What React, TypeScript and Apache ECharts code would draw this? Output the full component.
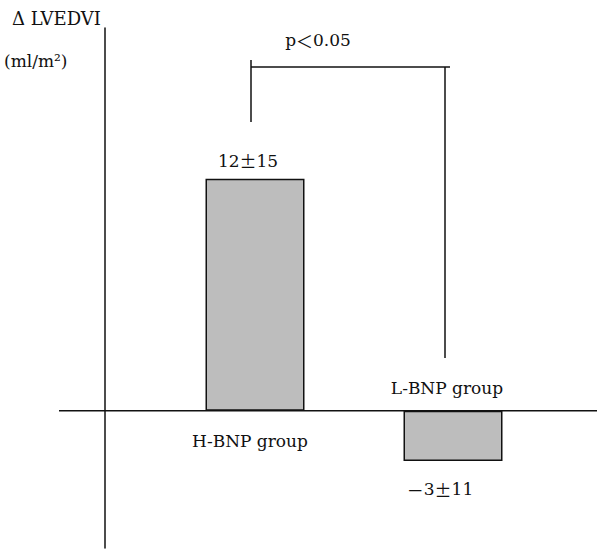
import React, { useEffect, useRef } from "react";
import * as echarts from "echarts";

const categories = ["H-BNP group", "L-BNP group"];
const meanValues = [12, -2.6];
const valueLabels = ["{a|12}{b|\u00b1}{a|15}", "{b|\uff0d}{a|3}{b|\u00b1}{a|11}"];
const yTitle = "\u0394 LVEDVI";
const yUnit = "(ml/m\u00b2)";
const pText = "{a|p}{b|\uff1c}{a|0.05}";
const yMin = -7.1;
const yMax = 19.8;

const FONT = "'DejaVu Serif', 'Liberation Serif', serif";
const CJK = "'Noto Sans CJK JP', sans-serif";

export default function App() {
  const ref = useRef<HTMLDivElement>(null);

  useEffect(() => {
    document.body.style.margin = "0";
    const el = ref.current!;
    const chart = echarts.init(el, null, { renderer: "svg" });

    chart.setOption({
      animation: false,
      backgroundColor: "#ffffff",
      grid: { left: 156, right: 45, top: 28, bottom: 2 },
      xAxis: {
        type: "category",
        data: categories,
        axisLine: { show: false },
        axisTick: { show: false },
        axisLabel: { show: false },
        splitLine: { show: false },
      },
      yAxis: {
        type: "value",
        min: yMin,
        max: yMax,
        offset: 51,
        axisLine: { show: true, onZero: false, lineStyle: { color: "#111", width: 1.5 } },
        axisTick: { show: false },
        axisLabel: { show: false },
        splitLine: { show: false },
      },
      series: [
        {
          type: "bar",
          data: meanValues,
          barWidth: 99,
          itemStyle: { color: "#bdbdbd", borderColor: "#111", borderWidth: 1.5 },
        },
      ],
    });

    const px = (i: number, v: number) =>
      chart.convertToPixel({ xAxisIndex: 0, yAxisIndex: 0 }, [i, v]) as number[];
    const zero0 = px(0, 0);
    const zero1 = px(1, 0);
    const top0 = px(0, meanValues[0]);
    const bot1 = px(1, meanValues[1]);
    const zeroY = zero0[1];

    const rich = {
      a: { font: `17px ${FONT}`, fill: "#111" },
      b: { font: `17px ${CJK}`, fill: "#111" },
    };
    const textStyle = (text: string, extra: any = {}) => ({
      text,
      font: `17px ${FONT}`,
      fill: "#111",
      align: "center",
      verticalAlign: "middle",
      rich,
      ...extra,
    });
    const line = (x1: number, y1: number, x2: number, y2: number) => ({
      type: "line",
      shape: { x1, y1, x2, y2 },
      style: { stroke: "#111", lineWidth: 1.5 },
      silent: true,
    });

    const leftX = zero0[0] - 4;
    const rightX = zero1[0] - 8;
    const bracketY = 67;

    chart.setOption({
      graphic: [
        line(59, zeroY, 597, zeroY),
        line(leftX, 60, leftX, 122),
        line(leftX, bracketY, rightX + 5, bracketY),
        line(rightX, bracketY, rightX, 358),
        { type: "text", x: 12, y: 18, style: textStyle(yTitle, { align: "left", font: `18px ${FONT}` }) },
        { type: "text", x: 4, y: 61, style: textStyle(yUnit, { align: "left" }) },
        { type: "text", x: 318, y: 40, style: textStyle(pText) },
        { type: "text", x: top0[0] - 7, y: top0[1] - 18, style: textStyle(valueLabels[0]) },
        { type: "text", x: bot1[0] - 13, y: bot1[1] + 28, style: textStyle(valueLabels[1]) },
        { type: "text", x: zero0[0] - 5, y: zeroY + 30, style: textStyle(categories[0]) },
        { type: "text", x: zero1[0] - 6, y: zeroY - 23, style: textStyle(categories[1]) },
      ],
    });

    return () => chart.dispose();
  }, []);

  return <div ref={ref} style={{ width: 597, height: 550 }} />;
}
